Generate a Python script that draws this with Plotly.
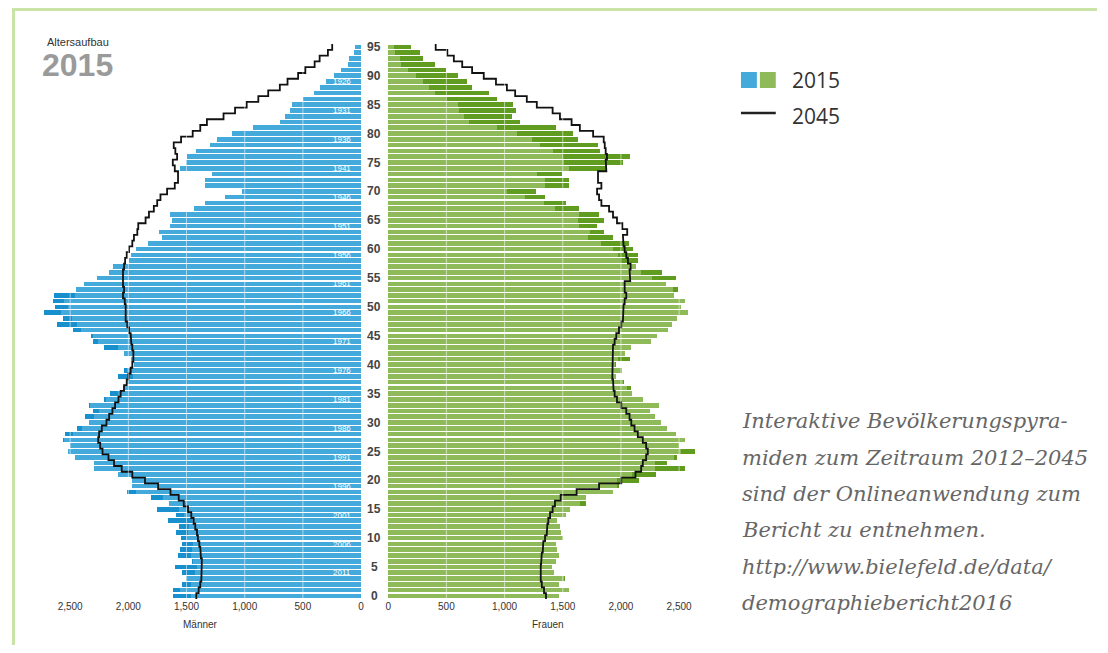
import plotly.graph_objects as go

# ---------------- data ----------------
ages = list(range(0, 96))

# Einwohner 2015 (Männer / Frauen) nach Alter 0..95
maenner_2015 = [1618, 1618, 1538, 1510, 1538, 1601, 1453, 1575, 1561, 1538,
                1553, 1595, 1567, 1661, 1590, 1752, 1652, 1809, 2014, 1966,
                1966, 2094, 2293, 2293, 2456, 2521, 2499, 2564, 2550, 2443,
                2342, 2370, 2302, 2336, 2208, 2156, 2051, 2023, 2088, 2037,
                1952, 1980, 2037, 2208, 2302, 2322, 2479, 2615, 2564, 2724,
                2630, 2650, 2644, 2450, 2385, 2271, 2171, 2137, 1994, 1980,
                1937, 1832, 1715, 1738, 1640, 1630, 1644, 1433, 1339, 1174,
                1026, 1345, 1345, 1282, 1558, 1510, 1501, 1416, 1302, 1239,
                1111, 934, 695, 655, 610, 598, 499, 405, 356, 299,
                237, 171, 110, 105, 60, 50]

frauen_2015 = [1467, 1556, 1467, 1525, 1425, 1413, 1448, 1467, 1456, 1448,
               1504, 1490, 1476, 1456, 1527, 1567, 1698, 1704, 1932, 1988,
               2160, 2302, 2553, 2402, 2487, 2638, 2502, 2553, 2479, 2396,
               2345, 2294, 2251, 2331, 2194, 2094, 2089, 2026, 1960, 2012,
               1960, 2083, 2040, 2089, 2260, 2308, 2410, 2444, 2487, 2581,
               2516, 2553, 2459, 2493, 2393, 2473, 2359, 2131, 2145, 2151,
               2103, 2074, 1932, 1855, 1794, 1860, 1812, 1638, 1527, 1348,
               1271, 1553, 1553, 1496, 1875, 2017, 2080, 1824, 1803, 1632,
               1590, 1442, 1134, 1066, 1097, 1071, 940, 872, 726, 678,
               598, 499, 407, 302, 274, 194]

# Prognose 2045
maenner_2045 = [1416, 1396, 1382, 1373, 1368, 1368, 1368, 1376, 1382, 1390,
                1402, 1410, 1425, 1439, 1459, 1487, 1524, 1567, 1638, 1744,
                1857, 1966, 2057, 2123, 2171, 2222, 2242, 2259, 2251, 2228,
                2188, 2165, 2137, 2114, 2085, 2066, 2037, 2014, 2000, 1980,
                1966, 1957, 1957, 1966, 1974, 1980, 1994, 2009, 2023, 2023,
                2023, 2031, 2046, 2037, 2046, 2051, 2046, 2037, 2028, 2014,
                1994, 1966, 1952, 1923, 1915, 1852, 1823, 1781, 1752, 1724,
                1667, 1601, 1573, 1573, 1601, 1618, 1581, 1596, 1610, 1547,
                1447, 1382, 1325, 1182, 1083, 983, 883, 798, 698, 632,
                541, 479, 399, 356, 285, 248]

frauen_2045 = [1356, 1339, 1320, 1311, 1305, 1311, 1314, 1320, 1328, 1333,
               1348, 1362, 1368, 1376, 1391, 1413, 1433, 1482, 1619, 1812,
               2003, 2125, 2174, 2188, 2217, 2231, 2217, 2188, 2145, 2117,
               2089, 2074, 2046, 2003, 1966, 1946, 1937, 1932, 1926, 1926,
               1932, 1926, 1932, 1932, 1946, 1960, 1983, 2003, 2017, 2017,
               2023, 2032, 2046, 2032, 2032, 2080, 2074, 2083, 2060, 2046,
               2032, 2023, 2017, 2054, 2012, 1966, 1932, 1898, 1832, 1812,
               1795, 1832, 1803, 1803, 1875, 1869, 1880, 1869, 1861, 1852,
               1761, 1647, 1576, 1476, 1413, 1277, 1191, 1091, 1020, 926,
               821, 721, 636, 564, 508, 408]

x_tick_vals = [0, 500, 1000, 1500, 2000, 2500]
x_tick_text = ["0", "500", "1,000", "1,500", "2,000", "2,500"]
age_ticks = [0, 5, 10, 15, 20, 25, 30, 35, 40, 45, 50, 55, 60, 65, 70, 75, 80, 85, 90, 95]
geburtsjahre = [1926, 1931, 1936, 1941, 1946, 1951, 1956, 1961, 1966, 1971,
                1976, 1981, 1986, 1991, 1996, 2001, 2006, 2011]
stand_jahr = 2015

hinweis_zeilen = ["Interaktive Bevölkerungspyra-",
                  "miden zum Zeitraum 2012–2045",
                  "sind der Onlineanwendung zum",
                  "Bericht zu entnehmen.",
                  "http://www.bielefeld.de/data/",
                  "demographiebericht2016"]

# ---------------- styling ----------------
OFF = 8                     # default page margin of the browser
W, H = 1108 - 2 * OFF, 653 - 2 * OFF
BLUE_L, BLUE_D = "#44aadb", "#1790cd"
GREEN_L, GREEN_D = "#8fba59", "#5f9c1f"
BORDER = "#c9e4a6"
SANS = "Liberation Sans, Arial, sans-serif"


def px(x):
    return (x - OFF) / W


def py(y):
    return 1 - (y - OFF) / H


gemeinsam = [min(m, f) for m, f in zip(maenner_2015, frauen_2015)]


def step(vals):
    xs, ys = [], []
    for a, v in zip(ages, vals):
        xs += [v, v]
        ys += [a - 0.5, a + 0.5]
    return xs, ys


fig = go.Figure()
BW = 0.8
# men (left)
fig.add_trace(go.Bar(y=ages, x=maenner_2015, orientation="h", width=BW,
                     marker=dict(color=BLUE_D, line=dict(width=0)),
                     xaxis="x", yaxis="y", showlegend=False, hoverinfo="skip"))
fig.add_trace(go.Bar(y=ages, x=gemeinsam, orientation="h", width=BW,
                     marker=dict(color=BLUE_L, line=dict(width=0)),
                     xaxis="x", yaxis="y", showlegend=False, hoverinfo="skip"))
# women (right)
fig.add_trace(go.Bar(y=ages, x=frauen_2015, orientation="h", width=BW,
                     marker=dict(color=GREEN_D, line=dict(width=0)),
                     xaxis="x2", yaxis="y2", showlegend=False, hoverinfo="skip"))
fig.add_trace(go.Bar(y=ages, x=gemeinsam, orientation="h", width=BW,
                     marker=dict(color=GREEN_L, line=dict(width=0)),
                     xaxis="x2", yaxis="y2", showlegend=False, hoverinfo="skip"))

# 2045 step lines
mx, my = step(maenner_2045)
fx, fy = step(frauen_2045)
fig.add_trace(go.Scatter(x=mx, y=my, mode="lines", line=dict(color="#111111", width=1.8),
                         xaxis="x", yaxis="y", showlegend=False, hoverinfo="skip"))
fig.add_trace(go.Scatter(x=fx, y=fy, mode="lines", line=dict(color="#111111", width=1.8),
                         xaxis="x2", yaxis="y2", showlegend=False, hoverinfo="skip"))

left_px0, left_px1 = 38, 360
right_px0, right_px1 = 387.3, 720
scale = 0.117  # px per person
ydom = [py(598.9), py(44.1)]

axis_common = dict(tickvals=x_tick_vals, ticktext=x_tick_text, showgrid=False,
                   zeroline=False, showline=False, ticks="",
                   tickfont=dict(family=SANS, size=10, color="#333333"))

fig.update_layout(
    width=W, height=H, margin=dict(l=0, r=0, t=0, b=0),
    paper_bgcolor="white", plot_bgcolor="white",
    barmode="overlay", bargap=0, showlegend=False,
    xaxis=dict(domain=[px(left_px0), px(left_px1)],
               range=[(left_px1 - left_px0) / scale, 0], anchor="y", **axis_common),
    xaxis2=dict(domain=[px(right_px0), px(right_px1)],
                range=[0, (right_px1 - right_px0) / scale], anchor="y2", **axis_common),
    yaxis=dict(domain=ydom, range=[-0.5, 95.5], anchor="x", visible=False),
    yaxis2=dict(domain=ydom, range=[-0.5, 95.5], anchor="x2", visible=False, matches="y"),
)

shapes = []
# white grid lines over the bars
for xr, yr in (("x", "y"), ("x2", "y2")):
    for v in x_tick_vals[1:]:
        shapes.append(dict(type="line", xref=xr, yref=yr, x0=v, x1=v, y0=-0.5, y1=95.5,
                           line=dict(color="rgba(255,255,255,0.55)", width=1), layer="above"))
# frame
shapes.append(dict(type="line", xref="paper", yref="paper", x0=px(9), x1=1, y0=py(9.5), y1=py(9.5),
                   line=dict(color=BORDER, width=3)))
shapes.append(dict(type="line", xref="paper", yref="paper", x0=px(10.5), x1=px(10.5), y0=py(8), y1=0,
                   line=dict(color=BORDER, width=3)))
# legend symbols
shapes.append(dict(type="rect", xref="paper", yref="paper", x0=px(742), x1=px(758), y0=py(88), y1=py(72),
                   fillcolor=BLUE_L, line=dict(width=0)))
shapes.append(dict(type="rect", xref="paper", yref="paper", x0=px(761), x1=px(777), y0=py(88), y1=py(72),
                   fillcolor=GREEN_L, line=dict(width=0)))
shapes.append(dict(type="line", xref="paper", yref="paper", x0=px(742), x1=px(777), y0=py(113), y1=py(113),
                   line=dict(color="#222222", width=2.5)))

ann = []
# age labels in the middle
for a in age_ticks:
    ann.append(dict(xref="paper", yref="y", x=px(373.5), y=a, text=str(a), showarrow=False,
                    xanchor="center", yanchor="middle",
                    font=dict(family=SANS, size=12, color="#444444", weight="bold")))
# birth-year labels inside men's bars
for yr in geburtsjahre:
    ann.append(dict(xref="paper", yref="y", x=px(352), y=stand_jahr - yr, text=str(yr), showarrow=False,
                    xanchor="right", yanchor="middle",
                    font=dict(family=SANS, size=8, color="white")))
# axis titles
ann.append(dict(xref="paper", yref="paper", x=px(199), y=py(624), text="Männer", showarrow=False,
                xanchor="center", yanchor="middle", font=dict(family=SANS, size=10, color="#333333")))
ann.append(dict(xref="paper", yref="paper", x=px(548), y=py(624), text="Frauen", showarrow=False,
                xanchor="center", yanchor="middle", font=dict(family=SANS, size=10, color="#333333")))
# title block
ann.append(dict(xref="paper", yref="paper", x=px(75), y=py(42), text="Altersaufbau", showarrow=False,
                xanchor="center", yanchor="middle", font=dict(family=SANS, size=11, color="#333333")))
ann.append(dict(xref="paper", yref="paper", x=px(75), y=py(65), text=str(stand_jahr), showarrow=False,
                xanchor="center", yanchor="middle",
                font=dict(family=SANS, size=32, color="#9a9a9a", weight="bold")))
# legend text
ann.append(dict(xref="paper", yref="paper", x=px(791), y=py(80), text="2015", showarrow=False,
                xanchor="left", yanchor="middle", font=dict(family="Open Sans", size=21, color="#333333")))
ann.append(dict(xref="paper", yref="paper", x=px(791), y=py(116), text="2045", showarrow=False,
                xanchor="left", yanchor="middle", font=dict(family="Open Sans", size=21, color="#333333")))
# note text
line_y = [421, 458, 494, 530, 567, 603]
for t, yy in zip(hinweis_zeilen, line_y):
    ann.append(dict(xref="paper", yref="paper", x=px(741), y=py(yy), text=t, showarrow=False,
                    xanchor="left", yanchor="middle",
                    font=dict(family="DejaVu Serif", size=21, color="#666666", style="italic")))

fig.update_layout(shapes=shapes, annotations=ann)
fig.write_html("out.html")
